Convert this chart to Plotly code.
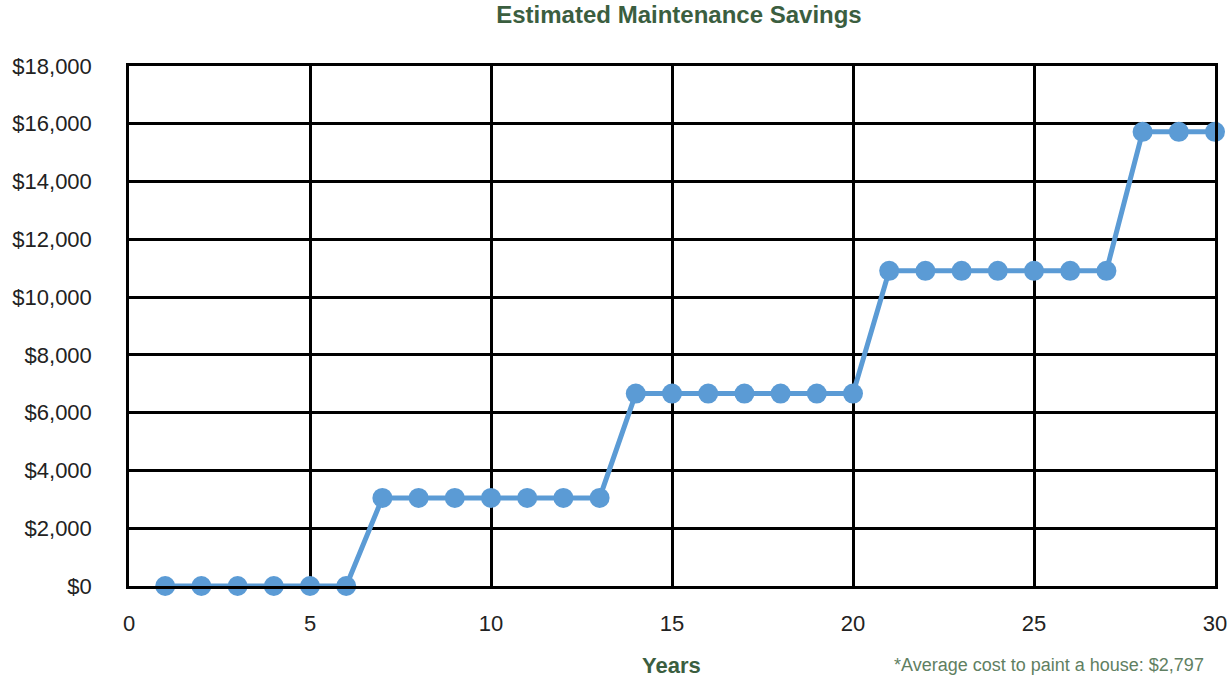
import plotly.graph_objects as go

years = list(range(1, 31))
savings = [0]*6 + [3050]*7 + [6660]*7 + [10910]*7 + [15720]*3
y_ticks = list(range(0, 18001, 2000))
y_tick_labels = [f"${v:,}" for v in y_ticks]
x_ticks = [0, 5, 10, 15, 20, 25, 30]

fig = go.Figure()
fig.add_trace(go.Scatter(
    x=years, y=savings, mode="lines+markers",
    line=dict(color="#5b9bd5", width=5),
    marker=dict(color="#5b9bd5", size=20),
    cliponaxis=False, showlegend=False,
))

font_family = "Liberation Sans, Arial, sans-serif"
green = "#3b5e3f"
L, R = 129, 13
PW = 1228 - L - R


def px(x):
    return (x - L) / PW


fig.update_layout(
    width=1228, height=677,
    margin=dict(l=L, r=R, t=66, b=91, autoexpand=False),
    paper_bgcolor="white", plot_bgcolor="white",
    font=dict(family=font_family, color="#222222"),
    title=dict(text="<b>Estimated Maintenance Savings</b>", x=px(679), xanchor="center",
               xref="paper", y=1 - 15/677, yanchor="middle",
               font=dict(size=24, color=green)),
    xaxis=dict(range=[0, 30], tickvals=x_ticks, showgrid=True, gridcolor="black", gridwidth=2.5,
               showline=True, linecolor="black", linewidth=2.5, mirror=True,
               zeroline=False, ticks="", tickfont=dict(size=22, color="#222222"),
               ticklabelstandoff=16, automargin=False),
    yaxis=dict(range=[0, 18000], tickvals=y_ticks, ticktext=y_tick_labels, showgrid=True,
               gridcolor="black", gridwidth=2.5, showline=True, linecolor="black", linewidth=2.5,
               mirror=True, zeroline=False, ticks="", tickfont=dict(size=22, color="#222222"),
               ticklabelstandoff=30, automargin=False),
)
fig.add_annotation(text="<b>Years</b>", xref="paper", yref="paper", x=px(671),
                   xanchor="center", y=-(665 - 586) / 520, yanchor="middle",
                   showarrow=False, font=dict(size=22, color=green))
fig.add_annotation(text="*Average cost to paint a house: $2,797", xref="paper", yref="paper",
                   x=px(1206), xanchor="right", y=-(665 - 586) / 520,
                   yanchor="middle", showarrow=False, font=dict(size=18, color="#5f7f62"))

fig.write_html(
    "out.html",
    config={"displayModeBar": False, "responsive": False},
    post_script=(
        "document.body.style.margin='0';"
        "document.body.style.overflow='hidden';"
        "document.documentElement.style.overflow='hidden';"
    ),
)
